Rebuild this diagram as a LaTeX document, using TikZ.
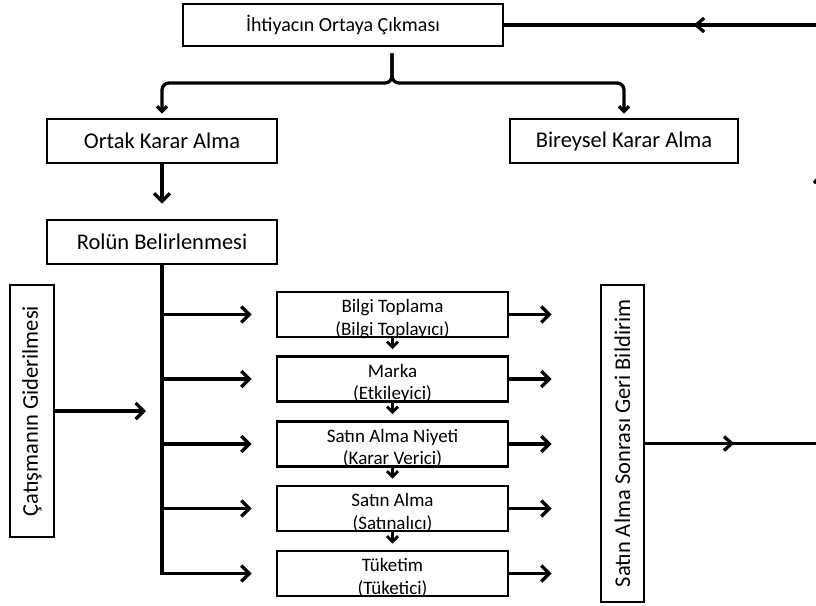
\documentclass[tikz,border=0pt]{standalone}
\usepackage{fontspec}
\usepackage{graphicx}
\setmainfont{Carlito}
\usetikzlibrary{arrows.meta,decorations.markings}

% one stage of the buying process: box with a two-line label
\newcommand\stagebox[4]{%
  \node[midbox] (#1) at (392.5,#2) {};
  \node[midtext] at ([yshift=2pt]#1.center) {#3};
  \node[midtext] at ([yshift=-20.5pt]#1.center) {#4};
}

\begin{document}
\begin{tikzpicture}[x=1pt,y=-1pt,
  bigbox/.style={draw, line width=2.8pt, inner sep=0pt, minimum height=44pt,
    font=\fontsize{22.5}{27}\selectfont},
  midbox/.style={draw, line width=2.8pt, minimum width=231pt, minimum height=45pt, inner sep=0pt},
  midtext/.style={anchor=base, inner sep=0pt, font=\fontsize{19}{23}\selectfont},
  link/.style={line width=3.3pt},
  arr/.style={link, -{Straight Barb[length=8pt,width=16pt]}},
  bracearr/.style={link, -{Straight Barb[length=5pt,width=10pt]}},
  tinyarr/.style={line width=2.8pt, -{Straight Barb[length=5.5pt,width=11pt]}},
  loopmark/.style={decoration={markings,
      mark=at position 89pt with {\arrow{Straight Barb[length=8pt,width=14pt]}},
      mark=at position 446.5pt with {\arrow{Straight Barb[length=8pt,width=14pt]}},
      mark=at position 721.5pt with {\arrow{Straight Barb[length=8pt,width=14pt]}}},
    postaction={decorate}},
]
\useasboundingbox (0,0) rectangle (816,605);

% boxes
\node[bigbox, minimum width=320pt, minimum height=42pt,
  font=\fontsize{20}{24}\selectfont] (need) at (343,25) {İhtiyacın Ortaya Çıkması};
\node[bigbox, minimum width=230pt] (joint) at (162,141) {Ortak Karar Alma};
\node[bigbox, minimum width=228pt] (single) at (624,141) {Bireysel Karar Alma};
\node[bigbox, minimum width=230pt] (role) at (162,242) {Rolün Belirlenmesi};
\node[bigbox, minimum width=44pt, minimum height=252pt] (conflict) at (32,411)
  {\rotatebox{90}{Çatışmanın Giderilmesi}};
\node[bigbox, minimum width=43pt, minimum height=317pt] (feedback) at (622.5,443.5)
  {\rotatebox{90}{Satın Alma Sonrası Geri Bildirim}};

\stagebox{s1}{314.5}{Bilgi Toplama}{(Bilgi Toplayıcı)}
\stagebox{s2}{379}{Marka}{(Etkileyici)}
\stagebox{s3}{444}{Satın Alma Niyeti}{(Karar Verici)}
\stagebox{s4}{508.5}{Satın Alma}{(Satınalıcı)}
\stagebox{s5}{573.5}{Tüketim}{(Tüketici)}

% brace splitting into joint / individual decision
\coordinate (cusp) at (392,83);
\draw[bracearr, rounded corners=7pt, shorten <=6pt, shorten >=4pt]
  (need.south -| cusp) -- (cusp) -- (cusp -| joint) -- (joint.north);
\draw[bracearr, rounded corners=7pt, shorten <=6pt, shorten >=4pt]
  (need.south -| cusp) -- (cusp) -- (cusp -| single) -- (single.north);

\draw[arr, shorten >=15pt] (joint) -- (role);

% trunk with branches to the stages
\draw[arr, shorten >=24pt] (role.south) -- (role.south |- s5) -- (s5.west);
\foreach \s in {s1,s2,s3,s4}
  \draw[arr, shorten >=24pt] (role.south |- \s) -- (\s.west);

\draw[arr, shorten >=16pt] (conflict.east) -- (conflict.east -| role.south);

% stages to feedback
\foreach \s in {s1,s2,s3,s4,s5}
  \draw[arr, shorten >=48pt] (\s.east) -- (\s.east -| feedback.west);
\foreach \a/\b in {s1/s2,s2/s3,s3/s4,s4/s5}
  \draw[tinyarr, shorten >=6pt] (\a.south) -- (\b.north);

% feedback loop back to the need
\coordinate (edge) at (821,0);
\draw[link, loopmark] (feedback.east) -- (feedback.east -| edge)
  -- (need.east -| edge) -- (need.east);
\end{tikzpicture}
\end{document}
